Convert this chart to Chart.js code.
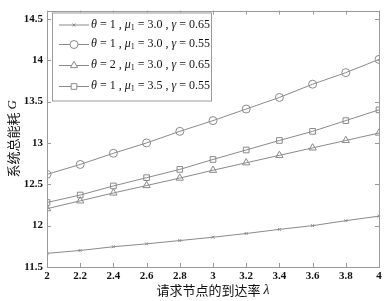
<!DOCTYPE html>
<html><head><meta charset="utf-8">
<script src="https://cdn.jsdelivr.net/npm/chart.js@4.4.1/dist/chart.umd.min.js"></script>
<style>html,body{margin:0;padding:0;background:#fff}#wrap{width:387px;height:301px}</style>
</head><body><div id="wrap"><canvas id="c" width="387" height="301"></canvas></div>
<script>
const xValues = [2,2.2,2.4,2.6,2.8,3,3.2,3.4,3.6,3.8,4];
const xTickLabels = ['2','2.2','2.4','2.6','2.8','3','3.2','3.4','3.6','3.8','4'];
const yTickValues = [11.5,12,12.5,13,13.5,14,14.5];
const yTickLabels = ['11.5','12','12.5','13','13.5','14','14.5'];
const series1 = [11.665,11.70,11.745,11.78,11.82,11.86,11.905,11.955,12.00,12.06,12.115];
const series2 = [12.62,12.74,12.875,13.0,13.14,13.27,13.41,13.55,13.71,13.85,14.01];
const series3 = [12.205,12.30,12.395,12.485,12.575,12.67,12.76,12.85,12.94,13.03,13.12];
const series4 = [12.28,12.37,12.48,12.58,12.68,12.80,12.915,13.03,13.14,13.27,13.40];
const thetas = ['1','1','2','1'];
const mus = ['3.0','3.0','3.0','3.5'];
const gammas = ['0.65','0.55','0.65','0.55'];
const markers = ['crossRot','circle','triangle','rect'];
const markerSizes = [2,4,4.2,4];
const xTitle = '请求节点的到达率 ';
const yTitle = '系统总能耗 ';

const lineColor = '#8a8a8a';
const allSeries = [series1,series2,series3,series4];
const datasets = allSeries.map((s,i)=>({
  label: 'θ='+thetas[i]+', μ1='+mus[i]+', γ='+gammas[i],
  data: s.map((v,j)=>({x:xValues[j],y:v})),
  borderColor: lineColor, borderWidth: 1,
  pointStyle: markers[i], pointRadius: markerSizes[i],
  pointBorderColor: lineColor, pointBackgroundColor: 'rgba(255,255,255,0)',
  pointBorderWidth: 1, fill:false, tension:0
}));

const serif = '"Liberation Serif","DejaVu Serif",serif';

const deco = {
  id:'deco',
  afterDraw(chart){
    const ctx = chart.ctx, a = chart.chartArea;
    const xs = chart.scales.x, ys = chart.scales.y;
    ctx.save();
    ctx.strokeStyle = '#9a9a9a'; ctx.lineWidth = 1;
    ctx.strokeRect(Math.round(a.left)+0.5, Math.round(a.top)+0.5, Math.round(a.right-a.left), Math.round(a.bottom-a.top));
    const tl = 4;
    ctx.beginPath();
    xValues.forEach(v=>{ const px = Math.round(xs.getPixelForValue(v))+0.5;
      ctx.moveTo(px,a.bottom); ctx.lineTo(px,a.bottom-tl);
      ctx.moveTo(px,a.top); ctx.lineTo(px,a.top+tl); });
    yTickValues.forEach(v=>{ const py = Math.round(ys.getPixelForValue(v))+0.5;
      ctx.moveTo(a.left,py); ctx.lineTo(a.left+tl,py);
      ctx.moveTo(a.right,py); ctx.lineTo(a.right-tl,py); });
    ctx.stroke();
    // legend
    const lx = 52, ly = 12.5, lw = 159, lh = 88;
    ctx.fillStyle = '#fff'; ctx.fillRect(lx,ly,lw,lh);
    ctx.strokeStyle = '#9a9a9a'; ctx.strokeRect(lx+0.5,ly+0.5,lw,lh);
    const rows = [24.5,44,65,86];
    rows.forEach((ry,i)=>{
      ctx.strokeStyle = lineColor; ctx.lineWidth = 1;
      ctx.beginPath(); ctx.moveTo(59,ry+0.5); ctx.lineTo(89,ry+0.5); ctx.stroke();
      ctx.fillStyle = '#fff'; ctx.strokeStyle = lineColor;
      Chart.helpers.drawPoint(ctx,{pointStyle:markers[i],radius:markerSizes[i],borderWidth:1},74,ry+0.5);
      ctx.fillStyle = '#111'; ctx.textBaseline = 'middle'; ctx.textAlign='left';
      let x = 91;
      const run = (t,style,dy,size)=>{ ctx.font = (style||'')+' '+(size||12)+'px '+serif; ctx.fillText(t,x,ry+(dy||0)); x += ctx.measureText(t).width; };
      run('θ','italic'); run(' = '+thetas[i]+' , ');
      run('μ','italic'); run('1','',3,8); run(' = '+mus[i]+' , ');
      run('γ','italic'); run(' = '+gammas[i]);
    });
    // x title
    ctx.fillStyle = '#111'; ctx.textBaseline='middle'; ctx.textAlign='left';
    ctx.font = '13px "Noto Sans CJK SC",sans-serif';
    const w1 = ctx.measureText(xTitle).width;
    ctx.font = 'italic 14px '+serif;
    const w2 = ctx.measureText('λ').width;
    let sx = (a.left+a.right)/2 - (w1+w2)/2;
    ctx.font = '13px "Noto Sans CJK SC",sans-serif'; ctx.fillText(xTitle,sx,290);
    ctx.font = 'italic 14px '+serif; ctx.fillText('λ',sx+w1,290);
    // y title
    ctx.translate(13,(a.top+a.bottom)/2); ctx.rotate(-Math.PI/2);
    ctx.font = '13px "Noto Sans CJK SC",sans-serif';
    const v1 = ctx.measureText(yTitle).width;
    ctx.font = 'italic 13px '+serif;
    const v2 = ctx.measureText('G').width;
    let sy = -(v1+v2)/2;
    ctx.font = '13px "Noto Sans CJK SC",sans-serif'; ctx.fillText(yTitle,sy,0);
    ctx.font = 'italic 13px '+serif; ctx.fillText('G',sy+v1,0);
    ctx.restore();
  }
};

new Chart(document.getElementById('c'),{
  type:'line',
  data:{datasets},
  options:{
    responsive:false, animation:false, devicePixelRatio:1,
    layout:{padding:{left:0,right:8,top:7,bottom:0}},
    plugins:{legend:{display:false},tooltip:{enabled:false}},
    scales:{
      x:{type:'linear',min:2,max:4,
        afterBuildTicks:s=>{s.ticks = xValues.map(v=>({value:v}));},
        afterFit:s=>{s.height = 34;},
        grid:{display:false,drawTicks:false}, border:{display:false},
        ticks:{autoSkip:false,maxRotation:0,padding:3,color:'#111',font:{family:serif,size:11,weight:'bold'},
          callback:(v,i)=>xTickLabels[i]}},
      y:{type:'linear',min:11.5,max:14.6,
        afterBuildTicks:s=>{s.ticks = yTickValues.map(v=>({value:v}));},
        afterFit:s=>{s.width = 47;},
        grid:{display:false,drawTicks:false}, border:{display:false},
        ticks:{padding:4,color:'#111',font:{family:serif,size:11,weight:'bold'},
          callback:(v,i)=>yTickLabels[i]}}
    }
  },
  plugins:[deco]
});
</script></body></html>
